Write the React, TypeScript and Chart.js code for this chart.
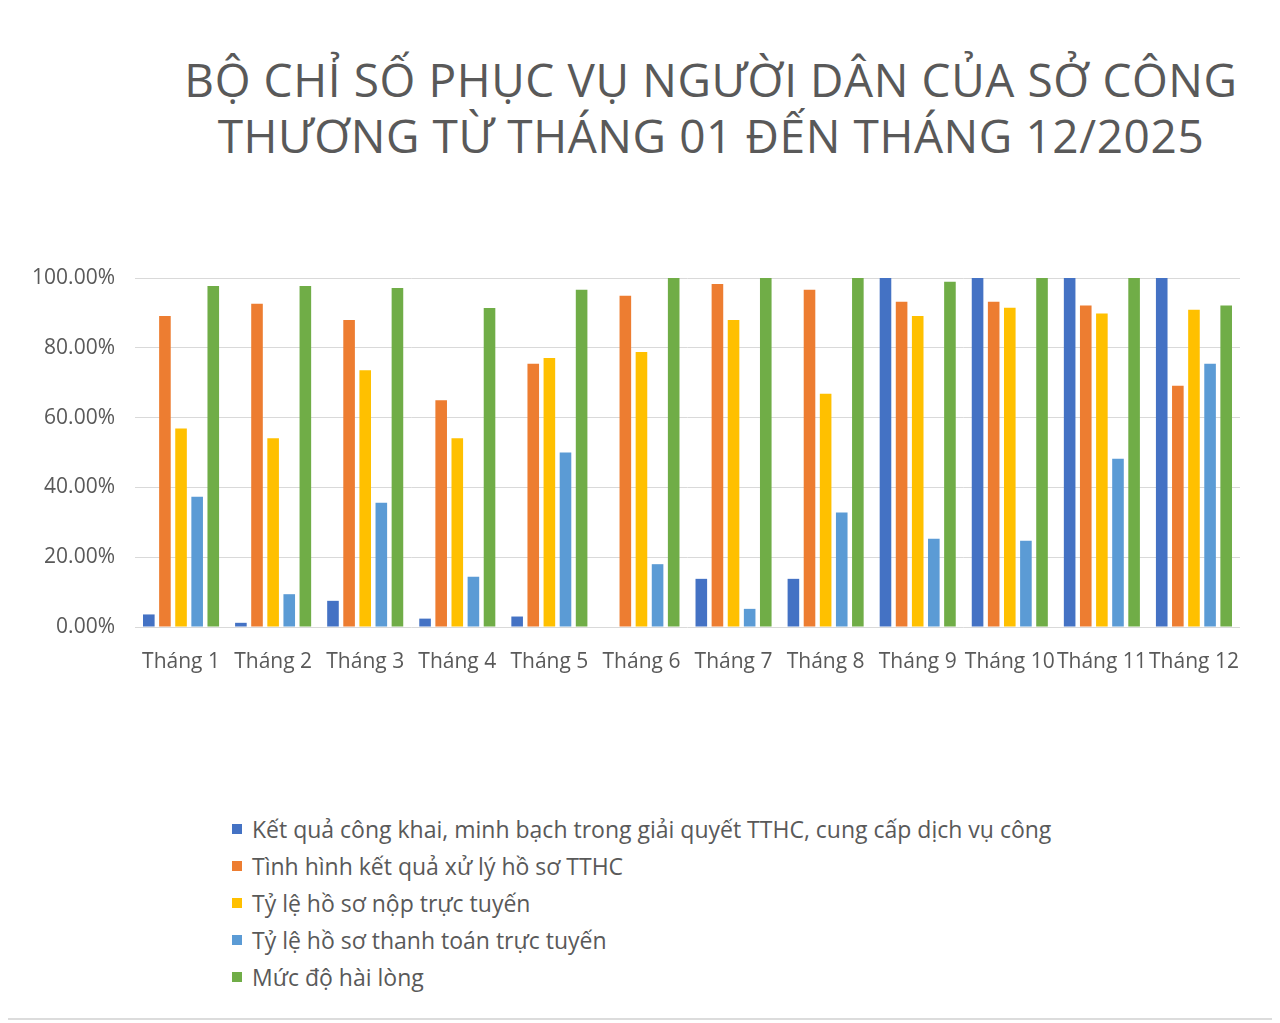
import React, { useEffect, useRef } from "react";
import { Chart, registerables } from "chart.js";

Chart.register(...registerables);

const titleLines = [
  "BỘ CHỈ SỐ PHỤC VỤ NGƯỜI DÂN CỦA SỞ CÔNG",
  "THƯƠNG TỪ THÁNG 01 ĐẾN THÁNG 12/2025",
];

const categories = [
  "Tháng 1", "Tháng 2", "Tháng 3", "Tháng 4", "Tháng 5", "Tháng 6",
  "Tháng 7", "Tháng 8", "Tháng 9", "Tháng 10", "Tháng 11", "Tháng 12",
];

const seriesNames = [
  "Kết quả công khai, minh bạch trong giải quyết TTHC, cung cấp dịch vụ công",
  "Tình hình kết quả xử lý hồ sơ TTHC",
  "Tỷ lệ hồ sơ nộp trực tuyến",
  "Tỷ lệ hồ sơ thanh toán trực tuyến",
  "Mức độ hài lòng",
];

const congKhai = [3.6, 1.2, 7.5, 2.4, 3.0, 0, 13.8, 13.8, 100, 100, 100, 100];
const xuLyHoSo = [89.1, 92.6, 88.0, 65.0, 75.4, 94.9, 98.3, 96.6, 93.2, 93.2, 92.1, 69.1];
const nopTrucTuyen = [56.9, 54.1, 73.6, 54.1, 77.1, 78.8, 88.0, 66.8, 89.1, 91.5, 89.8, 90.9];
const thanhToanTrucTuyen = [37.3, 9.4, 35.6, 14.4, 50.0, 18.0, 5.2, 32.8, 25.3, 24.7, 48.2, 75.4];
const haiLong = [97.7, 97.7, 97.1, 91.4, 96.6, 100, 100, 100, 98.9, 100, 100, 92.1];

const seriesColors = ["#4472C4", "#ED7D31", "#FFC000", "#5B9BD5", "#70AD47"];

const yTicks = [0, 20, 40, 60, 80, 100];

const TEXT = "#595959";
const FONT = "'Open Sans', 'Noto Sans', sans-serif";

export default function App() {
  const canvasRef = useRef<HTMLCanvasElement | null>(null);

  useEffect(() => {
    const canvas = canvasRef.current;
    if (!canvas) return;
    const seriesData = [congKhai, xuLyHoSo, nopTrucTuyen, thanhToanTrucTuyen, haiLong];
    const chart = new Chart(canvas, {
      type: "bar",
      data: {
        labels: categories,
        datasets: seriesNames.map((name, i) => ({
          label: name,
          data: seriesData[i],
          backgroundColor: seriesColors[i],
          borderWidth: 0,
          categoryPercentage: 0.875,
          barPercentage: 0.72,
        })),
      },
      options: {
        responsive: false,
        animation: false,
        devicePixelRatio: 1,
        layout: { padding: { top: 271, right: 33, left: 0, bottom: 0 } },
        plugins: {
          legend: { display: false },
          title: { display: false },
          tooltip: { enabled: false },
        },
        scales: {
          x: {
            grid: { display: false, drawTicks: false },
            border: { display: false },
            ticks: {
              color: TEXT,
              font: { family: FONT, size: 21 },
              padding: 22,
              maxRotation: 0,
              minRotation: 0,
              autoSkip: false,
            },
            afterFit: (scale: any) => {
              scale.height = 60;
            },
          },
          y: {
            min: 0,
            max: 100,
            afterBuildTicks: (scale: any) => {
              scale.ticks = yTicks.map((v) => ({ value: v }));
            },
            grid: { color: "#d9d9d9", lineWidth: 1, drawTicks: false },
            border: { display: false },
            ticks: {
              color: TEXT,
              font: { family: FONT, size: 21 },
              padding: 20,
              callback: (v: any) => Number(v).toFixed(2) + "%",
            },
            afterFit: (scale: any) => {
              scale.width = 128;
            },
          },
        },
      },
    });
    return () => chart.destroy();
  }, []);

  return (
    <div
      style={{
        position: "relative",
        margin: "-3px 0 0 -3px",
        width: 1270,
        height: 1015,
        border: "2px solid #dcdcdc",
        boxSizing: "border-box",
        background: "#fff",
        fontFamily: FONT,
      }}
    >
      <div
        style={{
          position: "absolute",
          left: 154,
          top: 44,
          width: 1100,
          textAlign: "center",
          color: TEXT,
          fontSize: 46,
          letterSpacing: "0.6px",
          lineHeight: "56px",
          whiteSpace: "nowrap",
        }}
      >
        {titleLines.map((t, i) => (
          <div key={i}>{t}</div>
        ))}
      </div>
      <canvas
        ref={canvasRef}
        width={1266}
        height={680}
        style={{ position: "absolute", left: 0, top: 0, width: 1266, height: 680 }}
      />
      <div
        style={{
          position: "absolute",
          left: 225,
          top: 804,
          color: TEXT,
          fontSize: 23,
        }}
      >
        {seriesNames.map((name, i) => (
          <div
            key={i}
            style={{ display: "flex", alignItems: "center", height: 36.8, whiteSpace: "nowrap" }}
          >
            <span
              style={{
                display: "inline-block",
                width: 10,
                height: 10,
                background: seriesColors[i],
                marginRight: 10,
                flex: "none",
              }}
            />
            <span>{name}</span>
          </div>
        ))}
      </div>
    </div>
  );
}
